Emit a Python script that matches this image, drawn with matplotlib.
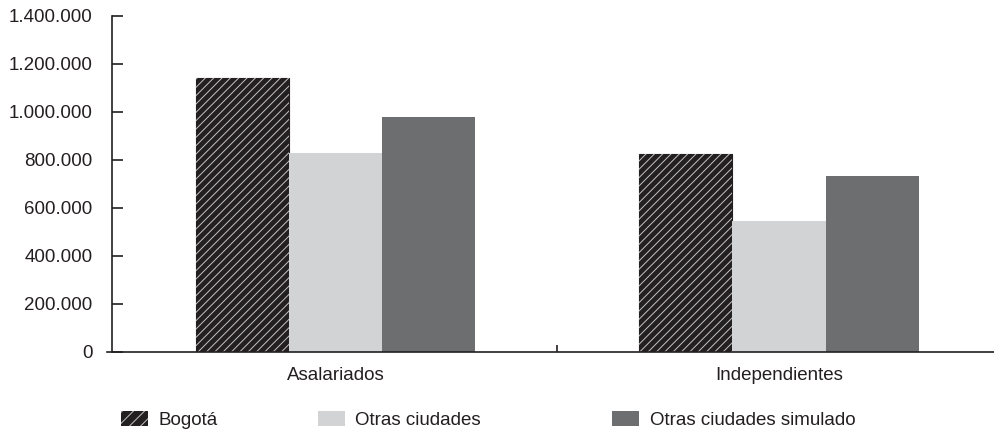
import matplotlib
matplotlib.use("Agg")
import matplotlib.pyplot as plt
import matplotlib.patches as mpatches
from matplotlib.ticker import FuncFormatter
import numpy as np

categories = ["Asalariados", "Independientes"]
series_names = ["Bogotá", "Otras ciudades", "Otras ciudades simulado"]
bogota = [1140000, 823000]
otras = [828000, 544000]
simulado = [980000, 732000]

plt.rcParams['font.family'] = ['Liberation Sans', 'DejaVu Sans']
plt.rcParams['hatch.linewidth'] = 0.7
txt = '#231f20'

fig = plt.figure(figsize=(9.95, 4.32), dpi=100)
ax = fig.add_axes([107 / 995, 0.1852, 888 / 995, 0.7778])

x = np.arange(len(categories))
width = 0.21
dark = '#231f20'
light = '#d1d3d4'
mid = '#6d6e70'

ax.bar(x - width, bogota, width, color=dark, edgecolor=dark, linewidth=0.8)
# hatch overlay in light lines
ax.bar(x - width, bogota, width, facecolor='none', edgecolor='#c4c4c4',
       hatch='////', linewidth=0)
ax.bar(x, otras, width, color=light, linewidth=0)
ax.bar(x + width, simulado, width, color=mid, linewidth=0)

ax.set_xlim(-0.515, 1.487)
ax.set_ylim(0, 1400000)
ax.set_yticks(np.arange(0, 1400001, 200000))
ax.yaxis.set_major_formatter(FuncFormatter(lambda v, p: f"{int(v):,}".replace(",", ".")))

ax.set_xticks(x)
ax.set_xticklabels(categories, fontsize=13.5)
ax.set_xticks([0.5], minor=True)
ax.tick_params(axis='x', which='major', length=0, pad=11, colors=txt)
ax.tick_params(axis='x', which='minor', length=5, direction='in', color=txt, width=1.2)
ax.tick_params(axis='y', length=8, direction='in', pad=14, labelsize=13.5,
               colors=txt, width=1.2)

for s in ['top', 'right']:
    ax.spines[s].set_visible(False)
ax.spines['left'].set_position(('axes', 0.0056))
for s in ['left', 'bottom']:
    ax.spines[s].set_color(txt)
    ax.spines[s].set_linewidth(1.2)

# legend, three separate entries
leg_x = [121 / 995, 318 / 995, 612 / 995]
h_bog = mpatches.Patch(facecolor=dark, edgecolor='#c4c4c4', hatch='///', linewidth=0)
h_otr = mpatches.Patch(facecolor=light, linewidth=0)
h_sim = mpatches.Patch(facecolor=mid, linewidth=0)
for lx, h, name in zip(leg_x, [h_bog, h_otr, h_sim], series_names):
    fig.legend(handles=[h], labels=[name], loc='center left',
               bbox_to_anchor=(lx, 0.028), frameon=False, fontsize=13.5,
               handlelength=1.45, handleheight=0.9, handletextpad=0.55,
               borderpad=0, borderaxespad=0, labelcolor=txt)

fig.savefig("out.png", dpi=100)
